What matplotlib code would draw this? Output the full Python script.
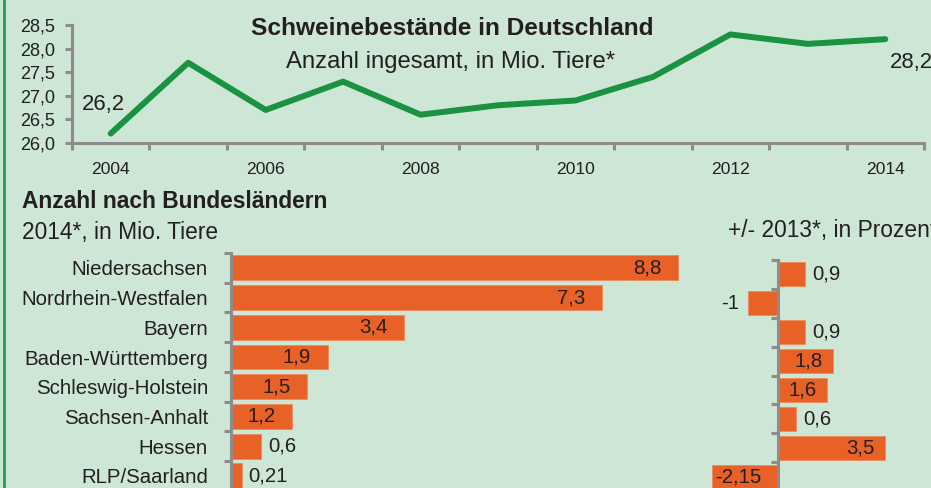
import matplotlib
matplotlib.use('Agg')
import matplotlib.pyplot as plt
from matplotlib import font_manager
from matplotlib.lines import Line2D
import numpy as np

# data
years = [2004, 2005, 2006, 2007, 2008, 2009, 2010, 2011, 2012, 2013, 2014]
stock = [26.2, 27.7, 26.7, 27.3, 26.6, 26.8, 26.9, 27.4, 28.3, 28.1, 28.2]

states = ['Niedersachsen', 'Nordrhein-Westfalen', 'Bayern', 'Baden-Württemberg',
          'Schleswig-Holstein', 'Sachsen-Anhalt', 'Hessen', 'RLP/Saarland']
count_2014 = [8.8, 7.3, 3.4, 1.9, 1.5, 1.2, 0.6, 0.21]
change_2013 = [0.9, -1, 0.9, 1.8, 1.6, 0.6, 3.5, -2.15]

ytick_vals = [26.0, 26.5, 27.0, 27.5, 28.0, 28.5]

bg = '#cde6d5'
green = '#1b9142'
orange = '#e86126'
grey = '#8c8c8c'
ink = '#231f20'

# font: narrow if available, else regular with smaller size
try:
    font_manager.findfont('Liberation Sans Narrow', fallback_to_default=False)
    fam, k = 'Liberation Sans Narrow', 1.0
except Exception:
    fam, k = 'Liberation Sans', 0.84
plt.rcParams['font.family'] = [fam, 'DejaVu Sans']

W, H = 931, 488
fig = plt.figure(figsize=(W / 100, H / 100), dpi=100, facecolor=bg)


def box(x0, y0, x1, y1):
    # pixel box (top-left origin) -> figure fraction
    return [x0 / W, 1 - y1 / H, (x1 - x0) / W, (y1 - y0) / H]


def de(v):
    return f'{v:g}'.replace('.', ',')


def gtext(x, y, s, **kw):
    fig.text(x / W, 1 - y / H, s, color=ink, va='baseline', **kw)


# ---- line chart ----
ax = fig.add_axes(box(72, 25, 924, 143))
ax.set_facecolor('none')
xs = np.arange(len(years))
ax.plot(xs, stock, color=green, lw=4.3, solid_capstyle='round', clip_on=False)
ax.set_xlim(-0.5, len(years) - 0.5)
ax.set_ylim(26, 28.5)
for s in ['top', 'right']:
    ax.spines[s].set_visible(False)
for s in ['left', 'bottom']:
    ax.spines[s].set_color(grey)
    ax.spines[s].set_linewidth(2.2)
ax.set_yticks(ytick_vals)
ax.set_yticklabels([f'{v:.1f}'.replace('.', ',') for v in ytick_vals])
ax.tick_params(axis='y', length=5, width=2.2, color=grey, pad=7,
               labelsize=15.5 * k, labelcolor=ink)
ax.set_xticks(np.arange(-0.5, len(years)))
ax.set_xticklabels([])
ax.tick_params(axis='x', which='major', length=5, width=2.2, color=grey)
ax.set_xticks(xs[::2], minor=True)
ax.set_xticklabels([str(y) for y in years[::2]], minor=True)
ax.tick_params(axis='x', which='minor', length=0, pad=14,
               labelsize=15 * k, labelcolor=ink)

gtext(452, 35, 'Schweinebestände in Deutschland', ha='center',
      fontsize=21 * k, fontweight='bold')
gtext(451, 68, 'Anzahl ingesamt, in Mio. Tiere*', ha='center', fontsize=20.5 * k)
gtext(125, 110, de(stock[0]), ha='right', fontsize=19 * k)
gtext(890, 68, de(stock[-1]), ha='left', fontsize=19 * k)

# ---- bars, left ----
gtext(22, 208, 'Anzahl nach Bundesländern', ha='left', fontsize=19.5 * k,
      fontweight='bold')
gtext(22, 239, '2014*, in Mio. Tiere', ha='left', fontsize=19.5 * k)
gtext(728, 237, '+/- 2013*, in Prozent', ha='left', fontsize=19.5 * k)


def style_bar_axis(a):
    a.set_facecolor('none')
    for s in ['top', 'right', 'bottom']:
        a.spines[s].set_visible(False)
    a.spines['left'].set_color(grey)
    a.spines['left'].set_linewidth(2.2)
    a.spines['left'].set_position(('data', 0))
    a.set_xticks([])
    rows = np.arange(len(states))
    a.set_yticks(np.arange(-0.5, len(states) - 1), minor=True)
    a.tick_params(axis='y', which='minor', length=5, width=2.2, color=grey)
    a.set_yticks(rows)


rows = np.arange(len(states))
axl = fig.add_axes(box(231, 253, 700, 488))
axl.barh(rows, count_2014, height=0.84, color=orange, edgecolor='#ef8a5c', lw=0.6)
axl.set_xlim(0, (700 - 231) / 50.8)
axl.set_ylim((488 - 268) / 29.7, -0.5)
style_bar_axis(axl)
axl.set_yticklabels(states)
axl.tick_params(axis='y', which='major', length=0, pad=16.5,
                labelsize=17.5 * k, labelcolor=ink)
for i, v in enumerate(count_2014):
    if v >= 1:
        axl.annotate(de(v), (v, i), xytext=(-12, 0), textcoords='offset points',
                     ha='right', va='center', fontsize=17.5 * k, color=ink)
    else:
        axl.annotate(de(v), (v, i), xytext=(5, 0), textcoords='offset points',
                     ha='left', va='center', fontsize=17.5 * k, color=ink)

# ---- bars, right ----
axr = fig.add_axes(box(700, 260, 931, 488))
axr.barh(rows, change_2013, height=0.83, color=orange, edgecolor='#ef8a5c', lw=0.6)
axr.set_xlim((700 - 778) / 30.5, (931 - 778) / 30.5)
axr.set_ylim((488 - 275) / 28.8, -0.5)
style_bar_axis(axr)
axr.set_yticklabels([])
axr.tick_params(axis='y', which='major', length=0)
for i, v in enumerate(change_2013):
    if abs(v) < 1.5:
        off, ha = (5, 'left') if v > 0 else (-6, 'right')
    else:
        off, ha = (-7, 'right') if v > 0 else (2, 'left')
    axr.annotate(de(v), (v, i), xytext=(off, 0), textcoords='offset points',
                 ha=ha, va='center', fontsize=17.5 * k, color=ink)

# green frame line on the left
fig.add_artist(Line2D([3.5 / W, 3.5 / W], [0, 1], transform=fig.transFigure,
                      color='#1ea04e', lw=2))

fig.savefig('out.png', dpi=100, facecolor=bg)
